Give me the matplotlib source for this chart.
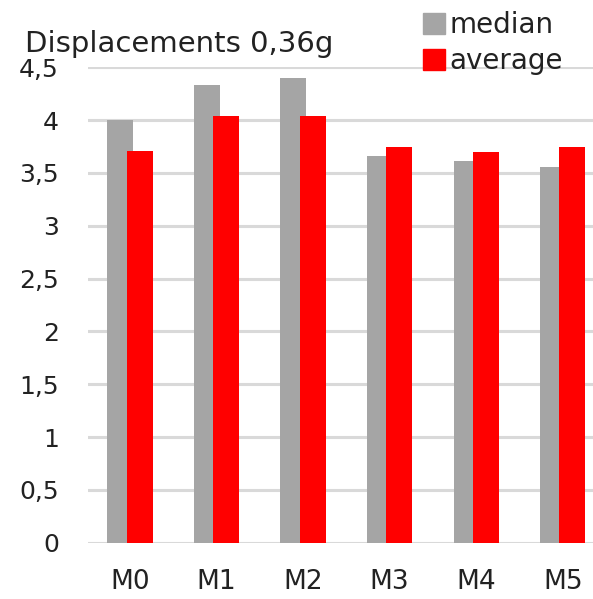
import numpy as np
import matplotlib.pyplot as plt
from matplotlib.patches import Rectangle
from matplotlib.ticker import FuncFormatter

plt.rcParams['font.family'] = ['DejaVu Sans']

models = ['M0', 'M1', 'M2', 'M3', 'M4', 'M5']
median = [4.00, 4.33, 4.40, 3.66, 3.61, 3.56]
average = [3.71, 4.04, 4.04, 3.75, 3.70, 3.75]

W, H = 593, 599
fig = plt.figure(figsize=(W / 100, H / 100), dpi=100)
ax = fig.add_axes([88 / W, 56.3 / H, (W - 88) / W, 475.4 / H])

x = np.arange(len(models))
w = 0.30
ax.bar(x - 0.112, median, width=w, color='#a5a5a5', zorder=2)
ax.bar(x + 0.112, average, width=w, color='#ff0000', zorder=3)

ax.set_ylim(0, 4.5)
ax.set_xlim(-0.486, 5.35)
ax.set_yticks(np.arange(0, 4.51, 0.5))
ax.yaxis.set_major_formatter(FuncFormatter(lambda v, p: ('%g' % v).replace('.', ',')))
ax.set_xticks(x)
ax.set_xticklabels(models)
ax.tick_params(axis='both', length=0, colors='#222222')
ax.tick_params(axis='y', labelsize=18, pad=21)
ax.tick_params(axis='x', labelsize=19, pad=19)
ax.grid(axis='y', color='#d9d9d9', linewidth=2.2, zorder=0)
ax.set_axisbelow(True)
for s in ax.spines.values():
    s.set_visible(False)

fig.text(25 / W, 1 - 51.7 / H, 'Displacements 0,36g', fontsize=21, color='#222222',
         va='baseline', ha='left')

# legend drawn by hand in the top-right corner
for i, (lab, col) in enumerate([('median', '#a5a5a5'), ('average', '#ff0000')]):
    y0 = 12.7 + 36 * i
    fig.patches.append(Rectangle((422.7 / W, 1 - (y0 + 21) / H), 22.3 / W, 21 / H,
                                 transform=fig.transFigure, color=col, zorder=5))
    fig.text(449 / W, 1 - (y0 + 20.6) / H, lab, fontsize=20, color='#222222',
             va='baseline', ha='left', zorder=6)

fig.savefig('out.png', dpi=100)
